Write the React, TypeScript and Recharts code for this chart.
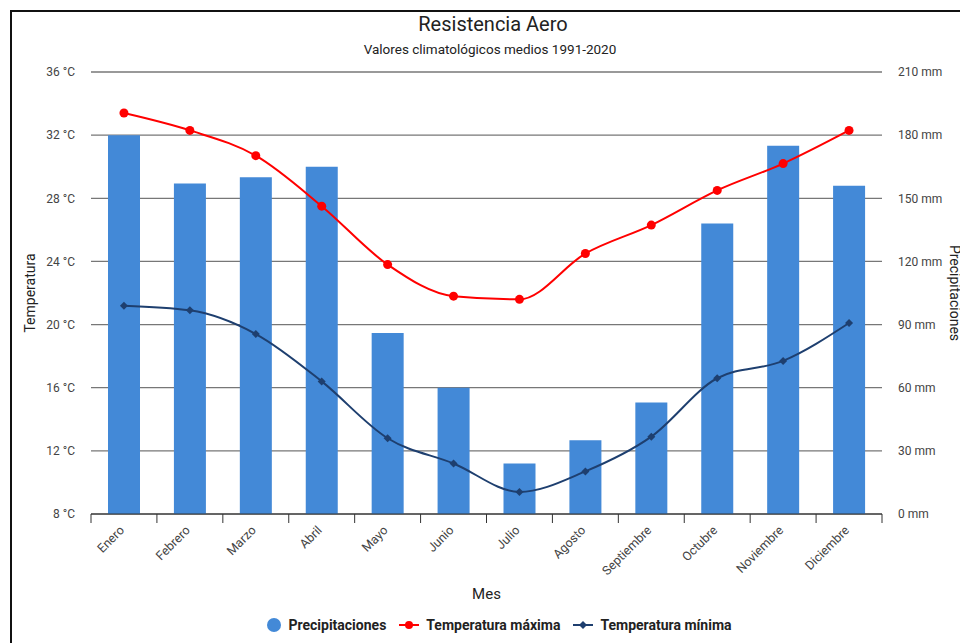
import React from 'react';
import { ComposedChart, Bar, Line, XAxis, YAxis, CartesianGrid } from 'recharts';

const months = ['Enero', 'Febrero', 'Marzo', 'Abril', 'Mayo', 'Junio', 'Julio', 'Agosto', 'Septiembre', 'Octubre', 'Noviembre', 'Diciembre'];
const precipitaciones = [180, 157, 160, 165, 86, 60, 24, 35, 53, 138, 175, 156];
const tempMax = [33.4, 32.3, 30.7, 27.5, 23.8, 21.8, 21.6, 24.5, 26.3, 28.5, 30.2, 32.3];
const tempMin = [21.2, 20.9, 19.4, 16.4, 12.8, 11.2, 9.4, 10.7, 12.9, 16.6, 17.7, 20.1];
const tempTicks = [8, 12, 16, 20, 24, 28, 32, 36];
const precipTicks = [0, 30, 60, 90, 120, 150, 180, 210];

const data = months.map((mes, i) => ({
  mes,
  precip: precipitaciones[i],
  max: tempMax[i],
  min: tempMin[i],
}));

const FONT = 'Roboto, "Noto Sans", sans-serif';
const BAR = '#4389d7';
const RED = '#ff0000';
const NAVY = '#1e3f6f';

const MonthTick = (props: any) => {
  const { x, y, payload, index } = props;
  const half = payload && payload.offset ? payload.offset : 33;
  return (
    <g>
      <line x1={x - half} y1={y} x2={x - half} y2={y + 9} stroke="#333" />
      {index === months.length - 1 && <line x1={x + half} y1={y} x2={x + half} y2={y + 9} stroke="#333" />}
      <text
        x={x + 1}
        y={y + 17}
        transform={`rotate(-45, ${x + 1}, ${y + 17})`}
        textAnchor="end"
        fontSize={12.5}
        fill="#444"
        fontFamily={FONT}
      >
        {payload.value}
      </text>
    </g>
  );
};

const Diamond = (props: any) => {
  const { cx, cy } = props;
  if (cx == null || cy == null) return null;
  return <path d={`M${cx},${cy - 4} L${cx + 4},${cy} L${cx},${cy + 4} L${cx - 4},${cy} Z`} fill={NAVY} />;
};

const LegendRow = () => (
  <div
    style={{
      position: 'absolute',
      top: 617,
      left: 0,
      width: 960,
      display: 'flex',
      justifyContent: 'center',
      alignItems: 'center',
      fontFamily: FONT,
      fontSize: 14,
      fontWeight: 'bold',
      color: '#222',
      paddingLeft: 38,
      boxSizing: 'border-box',
    }}
  >
    <svg width={16} height={16} style={{ marginRight: 6 }}>
      <circle cx={8} cy={8} r={7} fill={BAR} />
    </svg>
    <span style={{ marginRight: 12 }}>Precipitaciones</span>
    <svg width={22} height={12} style={{ marginRight: 6 }}>
      <line x1={1} y1={6} x2={21} y2={6} stroke={RED} strokeWidth={2} />
      <circle cx={11} cy={6} r={4} fill={RED} />
    </svg>
    <span style={{ marginRight: 12 }}>Temperatura máxima</span>
    <svg width={22} height={12} style={{ marginRight: 6 }}>
      <line x1={1} y1={6} x2={21} y2={6} stroke={NAVY} strokeWidth={2} />
      <path d="M11,2 L15,6 L11,10 L7,6 Z" fill={NAVY} />
    </svg>
    <span>Temperatura mínima</span>
  </div>
);

export default function App() {
  return (
    <div style={{ position: 'absolute', left: 0, top: 0, width: 960, height: 643, overflow: 'hidden', background: '#fff' }}>
      <div style={{ position: 'absolute', left: 10, top: 10, width: 1000, height: 700, border: '2px solid #111' }} />
      <div style={{ position: 'absolute', top: 12, left: 0, width: 986, textAlign: 'center', fontFamily: FONT, fontSize: 20, color: '#222' }}>
        Resistencia Aero
      </div>
      <div style={{ position: 'absolute', top: 41, left: 0, width: 980, textAlign: 'center', fontFamily: FONT, fontSize: 13.5, color: '#222' }}>
        Valores climatológicos medios 1991-2020
      </div>
      <div style={{ position: 'absolute', left: 0, top: 0 }}>
        <ComposedChart width={960} height={643} data={data} margin={{ top: 72, right: 10, left: 10, bottom: 69 }}>
          <CartesianGrid vertical={false} stroke="#777" strokeWidth={1.3} yAxisId="temp" />
          <XAxis
            dataKey="mes"
            height={60}
            tickSize={0}
            tickMargin={0}
            tick={<MonthTick />}
            interval={0}
            axisLine={{ stroke: '#333' }}
            tickLine={false}
            label={{ value: 'Mes', position: 'bottom', offset: 14, style: { fontFamily: FONT, fontSize: 15, fill: '#222' } }}
          />
          <YAxis
            yAxisId="temp"
            orientation="left"
            width={81}
            domain={[8, 36]}
            ticks={tempTicks}
            tickFormatter={(v) => `${v} °C`}
            axisLine={false}
            tickLine={false}
            tickMargin={10}
            tick={{ fontSize: 12, fill: '#444', fontFamily: FONT }}
            label={{ value: 'Temperatura', angle: -90, position: 'center', dx: -20, style: { fontFamily: FONT, fontSize: 14, fill: '#222', textAnchor: 'middle' } }}
          />
          <YAxis
            yAxisId="precip"
            orientation="right"
            width={68}
            domain={[0, 210]}
            ticks={precipTicks}
            tickFormatter={(v) => `${v} mm`}
            axisLine={false}
            tickLine={false}
            tickMargin={10}
            tick={{ fontSize: 12, fill: '#444', fontFamily: FONT }}
            label={{ value: 'Precipitaciones', angle: 90, position: 'center', dx: 39, style: { fontFamily: FONT, fontSize: 14, fill: '#222', textAnchor: 'middle' } }}
          />
          <Bar yAxisId="precip" dataKey="precip" fill={BAR} barSize={32} isAnimationActive={false} />
          <Line
            yAxisId="temp"
            type="monotone"
            dataKey="max"
            stroke={RED}
            strokeWidth={2}
            dot={{ r: 4.5, fill: RED, stroke: RED, strokeWidth: 0 }}
            isAnimationActive={false}
          />
          <Line
            yAxisId="temp"
            type="monotone"
            dataKey="min"
            stroke={NAVY}
            strokeWidth={2}
            dot={<Diamond />}
            isAnimationActive={false}
          />
        </ComposedChart>
      </div>
      <LegendRow />
    </div>
  );
}
